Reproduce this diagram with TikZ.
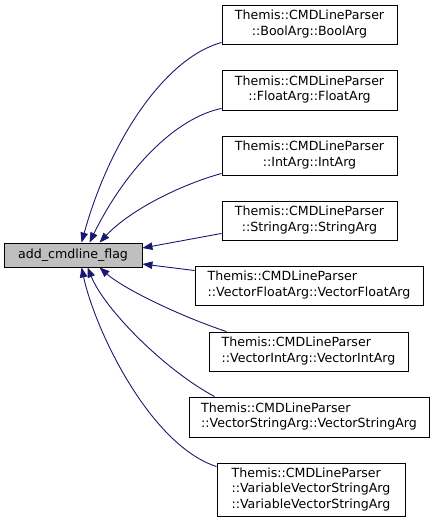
\documentclass[tikz,border=0pt]{standalone}
\usepackage{fontspec}
\setmainfont{DejaVu Sans}
\usetikzlibrary{arrows.meta}
\definecolor{edgeblue}{HTML}{191970}
\definecolor{flaggray}{HTML}{BFBFBF}
\newcommand\lblA[2]{\begin{tabular}{@{}l@{}}#1\\\multicolumn{1}{@{}c@{}}{#2}\end{tabular}}
\newcommand\lblB[3]{\begin{tabular}{@{}l@{}}#1\\#2\\\multicolumn{1}{@{}c@{}}{#3}\end{tabular}}
\begin{document}
\begin{tikzpicture}[x=1pt,y=-1pt,
  every node/.style={font=\fontsize{12.6}{15.5}\selectfont},
  cls/.style={draw=black,line width=0.9pt,fill=white,inner xsep=3pt,inner ysep=0pt,align=left},
  flagbox/.style={draw=black,line width=0.9pt,fill=flaggray,inner sep=0pt,minimum width=138pt,minimum height=24pt},
  edge/.style={draw=edgeblue,line width=0.9pt,{Triangle[length=10pt,width=7.5pt,fill=edgeblue]}-}]
\useasboundingbox (0,0) rectangle (435,524);
\node[flagbox] (flag) at (73,255) {add\_cmdline\_flag};
\node[cls,minimum width=175pt,minimum height=39pt] (bool) at (309.5,24.5) {\lblA{Themis::CMDLineParser}{::BoolArg::BoolArg}};
\node[cls,minimum width=175pt,minimum height=40pt] (float) at (309.5,90) {\lblA{Themis::CMDLineParser}{::FloatArg::FloatArg}};
\node[cls,minimum width=175pt,minimum height=39pt] (int) at (309.5,155.5) {\lblA{Themis::CMDLineParser}{::IntArg::IntArg}};
\node[cls,minimum width=175pt,minimum height=39pt] (string) at (309.5,220.5) {\lblA{Themis::CMDLineParser}{::StringArg::StringArg}};
\node[cls,minimum width=228pt,minimum height=39pt] (vfloat) at (309,285.5) {\lblA{Themis::CMDLineParser}{::VectorFloatArg::VectorFloatArg}};
\node[cls,minimum width=199pt,minimum height=39pt] (vint) at (308.5,351.5) {\lblA{Themis::CMDLineParser}{::VectorIntArg::VectorIntArg}};
\node[cls,minimum width=240pt,minimum height=40pt] (vstring) at (309,417) {\lblA{Themis::CMDLineParser}{::VectorStringArg::VectorStringArg}};
\node[cls,minimum width=188pt,minimum height=53pt] (varvs) at (311,489.5) {\lblB{Themis::CMDLineParser}{::VariableVectorStringArg}{::VariableVectorStringArg}};
\draw[edge] ([xshift=78pt]flag.north west) .. controls (110,140) and (165,58) .. ([yshift=2pt]bool.south west);
\draw[edge] ([xshift=86pt]flag.north west) .. controls (125,170) and (175,118) .. ([yshift=2pt]float.south west);
\draw[edge] ([xshift=96pt]flag.north west) .. controls (130,210) and (180,185) .. ([yshift=2pt]int.south west);
\draw[edge] ([yshift=7pt]flag.east) -- ([yshift=7pt]string.south west);
\draw[edge] ([yshift=-9pt]flag.east) -- ([yshift=-5pt]vfloat.north west);
\draw[edge] ([xshift=96pt]flag.south west) .. controls (125,290) and (185,318) .. ([xshift=18pt]vint.north west);
\draw[edge] ([xshift=84pt]flag.south west) .. controls (105,310) and (165,370) .. ([xshift=26pt]vstring.north west);
\draw[edge] ([xshift=78pt]flag.south west) .. controls (95,330) and (150,445) .. ([yshift=-4pt]varvs.north west);
\end{tikzpicture}
\end{document}
